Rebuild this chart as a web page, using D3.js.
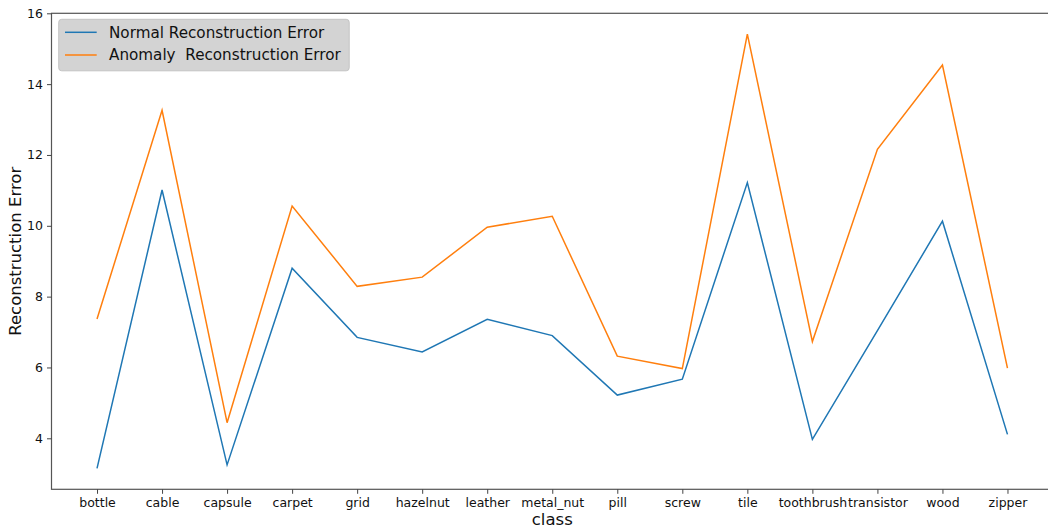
<!DOCTYPE html>
<html>
<head>
<meta charset="utf-8">
<script src="https://cdn.jsdelivr.net/npm/d3@7"></script>
<style>
  body { margin: 0; background: #fff; }
  svg { display: block; font-family: "DejaVu Sans", sans-serif; }
</style>
</head>
<body>
<div id="chart"></div>
<script>
// data
const classes = ["bottle", "cable", "capsule", "carpet", "grid", "hazelnut", "leather",
  "metal_nut", "pill", "screw", "tile", "toothbrush", "transistor", "wood", "zipper"];
const normalError = [3.15, 11.01, 3.25, 8.80, 6.85, 6.44, 7.36, 6.90, 5.22, 5.67, 11.22, 3.97, 7.04, 10.13, 4.11];
const anomalyError = [7.37, 13.26, 4.44, 10.56, 8.29, 8.55, 9.96, 10.27, 6.32, 5.97, 15.41, 6.73, 12.16, 14.54, 5.98];
const yTicks = [4, 6, 8, 10, 12, 14, 16];
const seriesNames = ["Normal Reconstruction Error", "Anomaly  Reconstruction Error"];
const seriesColors = ["#1f77b4", "#ff7f0e"];

const width = 1048, height = 529;
const plot = { left: 51.5, right: 1053, top: 13.3, bottom: 489.3 };

const svg = d3.select("#chart").append("svg")
  .attr("width", width)
  .attr("height", height);

// x: 5% padding on each side like matplotlib
const x = d3.scalePoint()
  .domain(classes)
  .range([plot.left, plot.right])
  .padding(0.7);

const y = d3.scaleLinear()
  .domain([2.56, 16])
  .range([plot.bottom, plot.top]);

// lines
const line = d3.line()
  .x((d, i) => x(classes[i]))
  .y(d => y(d));

[normalError, anomalyError].forEach((vals, k) => {
  svg.append("path")
    .datum(vals)
    .attr("fill", "none")
    .attr("stroke", seriesColors[k])
    .attr("stroke-width", 1.5)
    .attr("stroke-linejoin", "miter")
    .attr("d", line);
});

// spines
svg.append("rect")
  .attr("x", plot.left)
  .attr("y", plot.top)
  .attr("width", plot.right - plot.left)
  .attr("height", plot.bottom - plot.top)
  .attr("fill", "none")
  .attr("stroke", "#555")
  .attr("stroke-width", 1.2);

// axes
const xAxis = svg.append("g")
  .attr("transform", `translate(0,${plot.bottom})`)
  .call(d3.axisBottom(x).tickSize(4.5).tickPadding(4));
const yAxis = svg.append("g")
  .attr("transform", `translate(${plot.left},0)`)
  .call(d3.axisLeft(y).tickValues(yTicks).tickFormat(d3.format("d")).tickSize(4.5).tickPadding(4));

[xAxis, yAxis].forEach(g => {
  g.select(".domain").remove();
  g.selectAll(".tick line").attr("stroke", "#444").attr("stroke-width", 1);
  g.selectAll(".tick text")
    .attr("fill", "#111")
    .style("font-family", "'DejaVu Sans', sans-serif")
    .style("font-size", "12.5px");
});

// axis titles
svg.append("text")
  .attr("x", (plot.left + plot.right) / 2)
  .attr("y", 525)
  .attr("text-anchor", "middle")
  .style("font-size", "16.5px")
  .attr("fill", "#111")
  .text("class");

svg.append("text")
  .attr("transform", `translate(21,${(plot.top + plot.bottom) / 2}) rotate(-90)`)
  .attr("text-anchor", "middle")
  .style("font-size", "16.5px")
  .attr("fill", "#111")
  .text("Reconstruction Error");

// legend
const legend = svg.append("g").attr("transform", "translate(58.7,19.3)");
legend.append("rect")
  .attr("width", 290.5)
  .attr("height", 51.5)
  .attr("rx", 3)
  .attr("fill", "#d3d3d3")
  .attr("stroke", "#c4c4c4")
  .attr("stroke-width", 1);

seriesNames.forEach((name, i) => {
  const row = legend.append("g").attr("transform", `translate(0,${13 + i * 22.7})`);
  row.append("line")
    .attr("x1", 6.3).attr("x2", 38)
    .attr("stroke", seriesColors[i])
    .attr("stroke-width", 1.5);
  row.append("text")
    .attr("x", 50.3)
    .attr("dy", "0.35em")
    .style("font-size", "15.2px")
    .style("white-space", "pre")
    .attr("fill", "#111")
    .text(name);
});
</script>
</body>
</html>
